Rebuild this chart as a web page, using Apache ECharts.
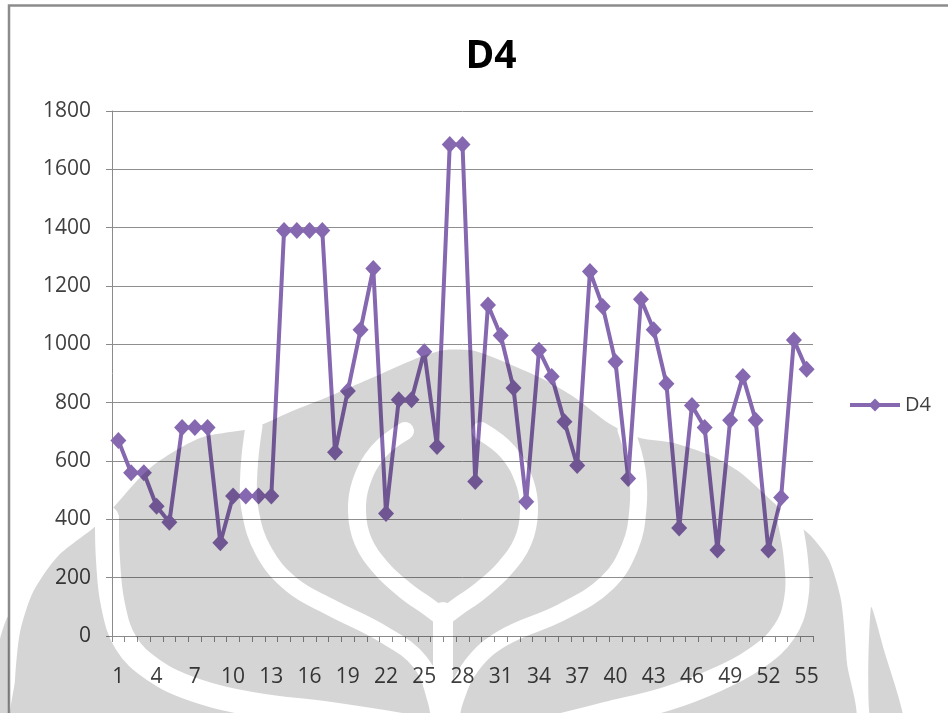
<!DOCTYPE html>
<html>
<head>
<meta charset="utf-8">
<title>D4</title>
<script src="https://cdn.jsdelivr.net/npm/echarts@6/dist/echarts.min.js"></script>
<style>
  html, body { margin: 0; padding: 0; background: #ffffff; }
  #chart { width: 948px; height: 713px; }
</style>
</head>
<body>
<div id="chart"></div>
<script>
// Sample numbers along the horizontal axis
const categories = [
  '1','2','3','4','5','6','7','8','9','10',
  '11','12','13','14','15','16','17','18','19','20',
  '21','22','23','24','25','26','27','28','29','30',
  '31','32','33','34','35','36','37','38','39','40',
  '41','42','43','44','45','46','47','48','49','50',
  '51','52','53','54','55'
];

// D4 readings, one per sample
const d4Values = [
  670, 560, 560, 445, 390, 715, 715, 715, 320, 480,
  480, 480, 480, 1390, 1390, 1390, 1390, 630, 840, 1050,
  1260, 420, 810, 810, 975, 650, 1685, 1685, 530, 1135,
  1030, 850, 460, 980, 890, 735, 585, 1250, 1130, 940,
  540, 1155, 1050, 865, 370, 790, 715, 295, 740, 890,
  740, 295, 475, 1015, 915
];

// Value axis range and step
const yMin = 0;
const yMax = 1800;
const yStep = 200;

const seriesName = 'D4';

// ---- styling ----
const FONT = '"Open Sans", "Liberation Sans", sans-serif';
const LINE_COLOR = '#8568b0';
const AXIS_GRAY = '#8a8a8a';
const TEXT_COLOR = '#3f3f3f';

// Faint emblem drawn across the lower part of the page (own canvas layer,
// translucent grey so the plot underneath shows through darker).
const EMBLEM_FILL = 'rgba(0,0,0,0.165)';
const EMBLEM_LAYER = 3;
const emblemOutline = [
  [15, 725], [15, 680], [20, 632], [33, 592], [58, 556], [98, 524],
  [150, 468], [200, 438], [253, 428], [290, 412], [330, 396],
  [383, 373], [420, 357], [445, 350], [475, 351], [507, 363], [545, 380],
  [574, 397], [610, 424], [640, 438], [674, 443], [714, 457], [741, 473],
  [774, 503], [790, 518], [812, 537], [829, 560], [841, 600], [847, 663],
  [851, 725]
];
const emblemSideLeft = [[0, 640], [8, 617], [8, 725], [0, 725]];
const emblemSideRight = [[871, 607], [884, 650], [904, 725], [871, 725]];
// Light channels cut out of the emblem: [points, width]
const emblemCuts = [
  [[[107, 518], [108, 560], [113, 605], [126, 643], [152, 669], [192, 689], [252, 704], [330, 714], [420, 728]], 24],
  [[[789, 518], [796, 560], [796, 600], [784, 632], [758, 657], [716, 680], [666, 699], [606, 714], [550, 728]], 24],
  [[[254, 426], [249, 470], [250, 510], [264, 552], [292, 585], [330, 607], [383, 634], [420, 662], [436, 700], [440, 728]], 17],
  [[[626, 430], [637, 470], [638, 508], [630, 547], [607, 583], [562, 612], [503, 638], [472, 665], [455, 700], [450, 728]], 17],
  [[[405, 431], [378, 452], [361, 483], [357, 512], [363, 541], [381, 568], [406, 591], [430, 608], [443, 618]], 18],
  [[[481, 431], [508, 452], [525, 483], [529, 512], [523, 541], [505, 568], [480, 591], [456, 608], [443, 618]], 18],
  [[[443, 612], [443, 728]], 20]
];

const emblemElements = [
  { type: 'polygon', zlevel: EMBLEM_LAYER, z2: 0, silent: true,
    shape: { points: emblemOutline, smooth: 0.25 }, style: { fill: EMBLEM_FILL } },
  { type: 'polygon', zlevel: EMBLEM_LAYER, z2: 0, silent: true,
    shape: { points: emblemSideLeft, smooth: 0.2 }, style: { fill: EMBLEM_FILL } },
  { type: 'polygon', zlevel: EMBLEM_LAYER, z2: 0, silent: true,
    shape: { points: emblemSideRight, smooth: 0.2 }, style: { fill: EMBLEM_FILL } }
].concat(emblemCuts.map(function (c) {
  return {
    type: 'polyline', zlevel: EMBLEM_LAYER, z2: 10, silent: true,
    shape: { points: c[0], smooth: 0.4 },
    style: { stroke: '#000', lineWidth: c[1], lineCap: 'round', lineJoin: 'round',
             fill: null, blend: 'destination-out' }
  };
}));

const chart = echarts.init(document.getElementById('chart'), null, { renderer: 'canvas' });

chart.setOption({
  animation: false,
  backgroundColor: '#ffffff',
  title: {
    text: 'D4',
    left: 486,
    top: 32,
    textAlign: 'center',
    textStyle: { fontFamily: FONT, fontSize: 39, fontWeight: 'bold', color: '#000000' }
  },
  legend: {
    data: [seriesName],
    left: 843,
    top: 390,
    itemWidth: 50,
    itemHeight: 16,
    itemGap: 5,
    lineStyle: { width: 4 },
    textStyle: { fontFamily: FONT, fontSize: 20, color: TEXT_COLOR }
  },
  grid: { left: 112, right: 135, top: 111, bottom: 77, containLabel: false },
  xAxis: {
    type: 'category',
    data: categories,
    boundaryGap: true,
    axisLine: { show: true, lineStyle: { color: AXIS_GRAY, width: 1 } },
    axisTick: { show: true, interval: 0, length: 6, inside: false, lineStyle: { color: AXIS_GRAY } },
    axisLabel: { interval: 2, margin: 31, fontFamily: FONT, fontSize: 21, color: TEXT_COLOR },
    splitLine: { show: false }
  },
  yAxis: {
    type: 'value',
    min: yMin,
    max: yMax,
    interval: yStep,
    axisLine: { show: true, lineStyle: { color: AXIS_GRAY, width: 1 } },
    axisTick: { show: true, length: 6, inside: false, lineStyle: { color: AXIS_GRAY } },
    axisLabel: {
      margin: 21, fontFamily: FONT, fontSize: 21, color: TEXT_COLOR,
      formatter: function (v) { return String(v); }
    },
    splitLine: { show: true, lineStyle: { color: '#8e8e8e', width: 1 } }
  },
  series: [{
    name: seriesName,
    type: 'line',
    data: d4Values,
    showAllSymbol: true,
    symbol: 'diamond',
    symbolSize: [16, 17],
    lineStyle: { color: LINE_COLOR, width: 4 },
    itemStyle: { color: LINE_COLOR },
    emphasis: { disabled: true }
  }],
  graphic: emblemElements.concat([
    {
      type: 'polyline', silent: true, z: 100,
      shape: { points: [[9, 713], [9, 5.5], [948, 5.5]] },
      style: { stroke: '#8c8c8c', lineWidth: 2.5, fill: null }
    }
  ])
});
</script>
</body>
</html>
